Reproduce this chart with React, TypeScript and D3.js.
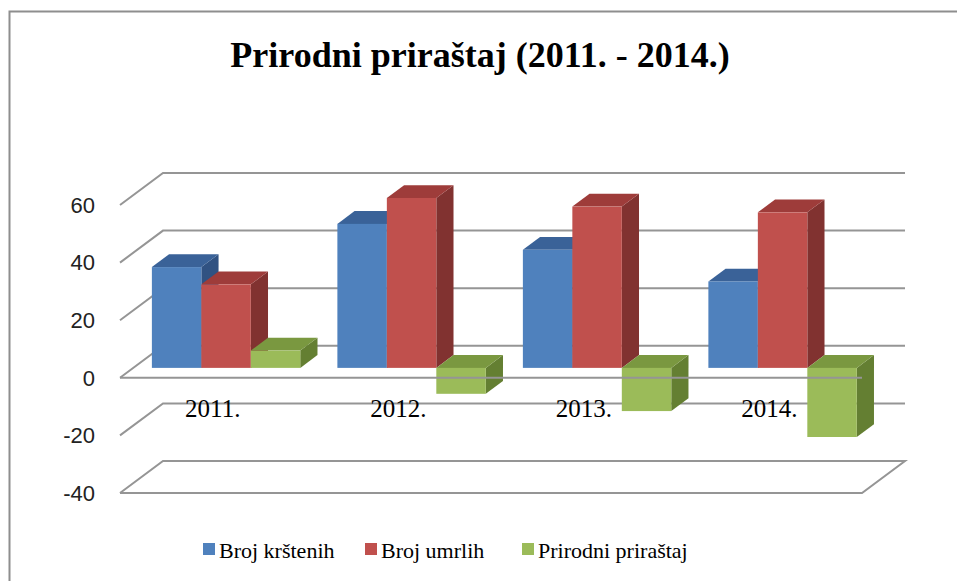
import * as d3 from "d3";
import React from "react";

// chart data
const categories = ["2011.", "2012.", "2013.", "2014."];
const seriesNames = ["Broj krštenih", "Broj umrlih", "Prirodni priraštaj"];
const births = [35, 50, 41, 30];
const deaths = [29, 59, 56, 54];
const natural = [6, -9, -15, -24];
const yTicks = [-40, -20, 0, 20, 40, 60];

const seriesColors = [
  { front: "#4F81BD", top: "#3A6298", side: "#305282" },
  { front: "#C0504D", top: "#9E3C3A", side: "#813230" },
  { front: "#9BBB59", top: "#7A9840", side: "#647F32" },
];

const serif = "'Liberation Serif', 'Times New Roman', serif";

const App = () => {
  const ref = React.useRef<SVGSVGElement>(null);

  React.useEffect(() => {
    document.body.style.margin = "0";
    document.body.style.overflow = "hidden";

    const width = 957,
      height = 581;
    const svg = d3.select(ref.current);
    svg.selectAll("*").remove();
    svg.attr("width", width).attr("height", height);

    // 3d box: front plane x range, depth offset
    const front = { left: 120, right: 862 };
    const depth = { dx: 43, dy: -32 };
    const z0 = 0.31,
      z1 = 0.71;

    const y = d3.scaleLinear().domain([-40, 60]).range([493, 205]);

    const x = d3
      .scaleBand()
      .domain(categories)
      .range([front.left, front.right])
      .paddingInner(0.2)
      .paddingOuter(0.1);

    const xs = d3
      .scaleBand()
      .domain(seriesNames)
      .range([0, x.bandwidth()]);

    // chart border
    svg
      .append("rect")
      .attr("x", 9.5)
      .attr("y", 11.5)
      .attr("width", 980)
      .attr("height", 620)
      .attr("fill", "white")
      .attr("stroke", "#8E8E8E")
      .attr("stroke-width", 2);

    // title
    svg
      .append("text")
      .attr("x", 480)
      .attr("y", 67)
      .attr("text-anchor", "middle")
      .attr("font-family", serif)
      .attr("font-weight", "bold")
      .attr("font-size", 36)
      .text("Prirodni priraštaj (2011. - 2014.)");

    const grid = svg.append("g");

    // walls: gridlines on side and back wall
    yTicks.forEach((t) => {
      const yf = y(t);
      const yb = yf + depth.dy;
      let pts = [
        [front.left, yf],
        [front.left + depth.dx, yb],
        [front.right + depth.dx, yb],
      ];
      if (t === yTicks[0]) {
        // floor
        pts = pts.concat([
          [front.right, yf],
          [front.left, yf],
        ]);
      }
      grid
        .append("path")
        .attr("d", d3.line()(pts as [number, number][]))
        .attr("fill", "none")
        .attr("stroke", "#959595")
        .attr("stroke-width", 2);
    });

    // y labels
    svg
      .append("g")
      .selectAll("text")
      .data(yTicks)
      .enter()
      .append("text")
      .attr("x", 95)
      .attr("y", (d) => y(d) + 2)
      .attr("text-anchor", "end")
      .attr("dominant-baseline", "middle")
      .attr("font-family", "'Liberation Sans', Arial, sans-serif")
      .attr("font-size", 22)
      .attr("fill", "#222")
      .text((d) => d);

    // category labels
    svg
      .append("g")
      .selectAll("text")
      .data(categories)
      .enter()
      .append("text")
      .attr("x", (d) => x(d)! + x.bandwidth() / 2)
      .attr("y", 417)
      .attr("text-anchor", "middle")
      .attr("font-family", serif)
      .attr("font-size", 25)
      .text((d) => d);

    // bars
    const series = [births, deaths, natural];
    const bars = svg.append("g");
    const ox = depth.dx * z0,
      oy = depth.dy * z0;
    const bdx = depth.dx * (z1 - z0),
      bdy = depth.dy * (z1 - z0);

    categories.forEach((cat, ci) => {
      series.forEach((vals, si) => {
        const v = vals[ci];
        const c = seriesColors[si];
        const x0 = x(cat)! + xs(seriesNames[si])! + ox;
        const w = xs.bandwidth();
        const yt = y(Math.max(v, 0)) + oy;
        const yb = y(Math.min(v, 0)) + oy;
        const g = bars.append("g");
        // side face
        g.append("path")
          .attr(
            "d",
            d3.line()([
              [x0 + w, yt],
              [x0 + w + bdx, yt + bdy],
              [x0 + w + bdx, yb + bdy],
              [x0 + w, yb],
            ]) + "Z"
          )
          .attr("fill", c.side);
        // top face
        g.append("path")
          .attr(
            "d",
            d3.line()([
              [x0, yt],
              [x0 + w, yt],
              [x0 + w + bdx, yt + bdy],
              [x0 + bdx, yt + bdy],
            ]) + "Z"
          )
          .attr("fill", c.top);
        // front face
        g.append("rect")
          .attr("x", x0)
          .attr("y", yt)
          .attr("width", w)
          .attr("height", yb - yt)
          .attr("fill", c.front);
      });
    });

    // horizontal axis line at 0
    svg
      .append("line")
      .attr("x1", front.left)
      .attr("x2", front.right)
      .attr("y1", y(0))
      .attr("y2", y(0))
      .attr("stroke", "#959595")
      .attr("stroke-width", 2);

    // legend
    const legendX = [203, 365, 522];
    const legend = svg
      .append("g")
      .selectAll("g")
      .data(seriesNames)
      .enter()
      .append("g")
      .attr("transform", (_, i) => `translate(${legendX[i]},543)`);

    legend
      .append("rect")
      .attr("width", 12)
      .attr("height", 12)
      .attr("fill", (_, i) => seriesColors[i].front);

    legend
      .append("text")
      .attr("x", 16)
      .attr("y", 15)
      .attr("font-family", serif)
      .attr("font-size", 22)
      .text((d) => d);
  }, []);

  return (
    <svg
      ref={ref}
      style={{ position: "absolute", left: 0, top: 0, display: "block" }}
    />
  );
};

export default App;
